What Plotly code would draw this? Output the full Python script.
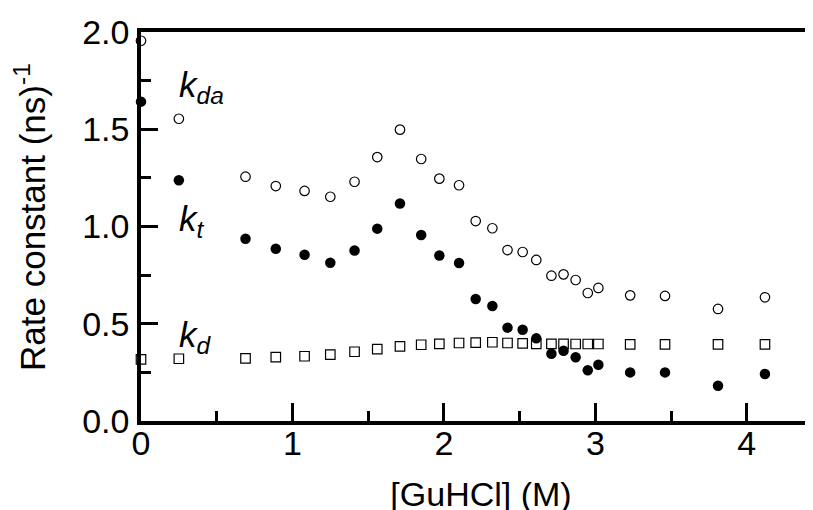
import plotly.graph_objects as go

# GuHCl concentration (M)
guhcl = [0.00, 0.25, 0.69, 0.89, 1.08, 1.25, 1.41, 1.56, 1.71, 1.85, 1.97, 2.10,
         2.21, 2.32, 2.42, 2.52, 2.61, 2.71, 2.79, 2.87, 2.95, 3.02, 3.23, 3.46,
         3.81, 4.12]

# k_da (open circles)
k_da = [1.955, 1.554, 1.256, 1.208, 1.183, 1.153, 1.230, 1.357, 1.498, 1.347,
        1.246, 1.212, 1.028, 0.991, 0.879, 0.869, 0.828, 0.747, 0.754, 0.725,
        0.658, 0.684, 0.646, 0.643, 0.576, 0.636]

# k_t (filled circles)
k_t = [1.642, 1.238, 0.937, 0.886, 0.855, 0.814, 0.877, 0.989, 1.118, 0.956,
       0.851, 0.812, 0.627, 0.591, 0.480, 0.469, 0.425, 0.346, 0.361, 0.328,
       0.261, 0.289, 0.250, 0.250, 0.181, 0.242]

# k_d (open squares)
k_d = [0.317, 0.320, 0.322, 0.328, 0.333, 0.341, 0.356, 0.370, 0.384, 0.392,
       0.397, 0.401, 0.403, 0.405, 0.401, 0.399, 0.397, 0.397, 0.397, 0.396,
       0.396, 0.396, 0.394, 0.394, 0.394, 0.394]

x_ticks = [0, 1, 2, 3, 4]
y_ticks = [0.0, 0.5, 1.0, 1.5, 2.0]
y_tick_text = ["0.0", "0.5", "1.0", "1.5", "2.0"]

FONT = "Liberation Sans, Arial, Helvetica, sans-serif"

fig = go.Figure()

fig.add_trace(go.Scatter(
    x=guhcl, y=k_d, mode="markers", name="k_d",
    marker=dict(symbol="square", size=9.5, color="white",
                line=dict(color="black", width=1.2)),
    cliponaxis=False,
))
fig.add_trace(go.Scatter(
    x=guhcl, y=k_t, mode="markers", name="k_t",
    marker=dict(symbol="circle", size=10.5, color="black",
                line=dict(width=0)),
    cliponaxis=False,
))
fig.add_trace(go.Scatter(
    x=guhcl, y=k_da, mode="markers", name="k_da",
    marker=dict(symbol="circle", size=9.5, color="white",
                line=dict(color="black", width=1.2)),
    cliponaxis=False,
))

for txt, yv in [("<i>k<sub>da</sub></i>", 1.84),
                ("<i>k<sub>t</sub></i>", 1.15),
                ("<i>k<sub>d</sub></i>", 0.555)]:
    fig.add_annotation(x=0.236, y=yv, xref="x", yref="y", text=txt,
                       showarrow=False, xanchor="left", yanchor="top",
                       font=dict(family=FONT, size=35, color="black"))

# y-axis title
fig.add_annotation(x=-0.1632, y=1.049, xref="paper", yref="y",
                   text="Rate constant (ns)<sup>-1</sup>", textangle=-90,
                   showarrow=False, xanchor="center", yanchor="middle",
                   font=dict(family=FONT, size=35, color="black"))

fig.update_layout(
    width=813, height=510,
    margin=dict(l=133, r=0, t=24, b=97),
    paper_bgcolor="white", plot_bgcolor="white",
    showlegend=False,
    font=dict(family=FONT, size=34, color="black"),
    xaxis=dict(
        range=[0, 4.49],
        automargin=False,
        tickvals=x_ticks, ticktext=[str(v) for v in x_ticks],
        ticks="inside", ticklen=18, tickwidth=3, tickcolor="black",
        showline=True, linewidth=3.5, linecolor="black", mirror=True,
        showgrid=False, zeroline=False,
        minor=dict(dtick=0.5, tick0=0, ticks="inside", ticklen=10,
                   tickwidth=3, tickcolor="black", showgrid=False),
        tickfont=dict(size=34),
        ticklabelstandoff=-11,
        title=dict(text="[GuHCl] (M)", font=dict(size=34), standoff=23),
    ),
    yaxis=dict(
        range=[0, 2.0],
        automargin=False,
        tickvals=y_ticks, ticktext=y_tick_text,
        ticks="inside", ticklen=17, tickwidth=3, tickcolor="black",
        showline=True, linewidth=3.5, linecolor="black",
        showgrid=False, zeroline=False,
        minor=dict(dtick=0.25, tick0=0, ticks="inside", ticklen=10,
                   tickwidth=3, tickcolor="black", showgrid=False),
        tickfont=dict(size=34),
        ticklabelstandoff=1,
    ),
)

fig.write_html("out.html")
